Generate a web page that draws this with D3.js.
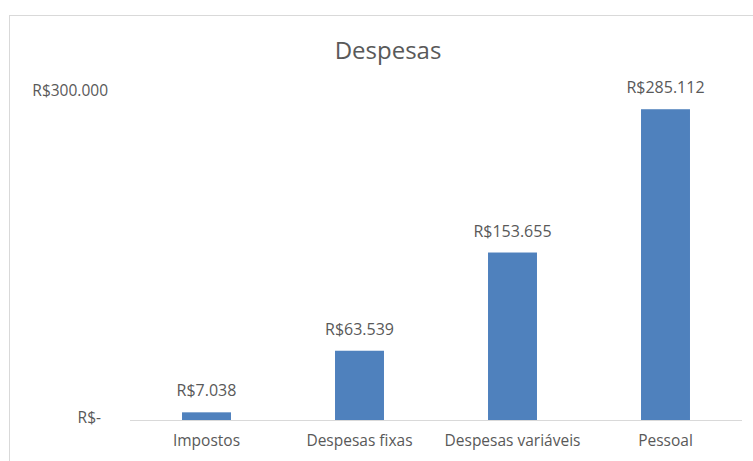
<!DOCTYPE html>
<html>
<head>
<meta charset="utf-8">
<script src="https://cdn.jsdelivr.net/npm/d3@7"></script>
<style>
  body { margin: 0; background: #fff; }
  text { font-family: "Open Sans", "Noto Sans", sans-serif; fill: #595959; }
</style>
</head>
<body>
<svg id="chart"></svg>
<script>
const categories = ["Impostos", "Despesas fixas", "Despesas variáveis", "Pessoal"];
const values = [7038, 63539, 153655, 285112];
const yTicks = [0, 300000];

const width = 753, height = 461;
const svg = d3.select("#chart").attr("width", width).attr("height", height);

// chart frame (right/bottom run off the picture)
svg.append("rect")
  .attr("x", 9.5).attr("y", 15.5)
  .attr("width", 760).attr("height", 460)
  .attr("fill", "#fff")
  .attr("stroke", "#d9d9d9");

const x = d3.scaleBand().domain(categories).range([130, 742]).paddingInner(0.68).paddingOuter(0.34);
const y = d3.scaleLinear().domain([0, 300000]).range([420, 93]);

const fmt = v => v === 0 ? "R$-" : "R$" + d3.format(",")(v).replace(/,/g, ".");

svg.append("text")
  .attr("x", 388).attr("y", 59)
  .attr("text-anchor", "middle")
  .style("font-size", "24px")
  .text("Despesas");

// y labels
svg.selectAll("text.ytick")
  .data(yTicks)
  .enter().append("text")
  .attr("class", "ytick")
  .attr("x", d => d === 0 ? 101 : 108)
  .attr("y", d => y(d) + 3)
  .attr("text-anchor", "end")
  .style("font-size", "15.5px")
  .text(fmt);

svg.selectAll("rect.bar")
  .data(values)
  .enter().append("rect")
  .attr("class", "bar")
  .attr("x", (d, i) => x(categories[i]))
  .attr("y", d => y(d))
  .attr("width", x.bandwidth())
  .attr("height", d => y(0) - y(d))
  .attr("fill", "#4f81bd");

svg.append("line")
  .attr("x1", 130).attr("x2", 742)
  .attr("y1", y(0) + 0.5).attr("y2", y(0) + 0.5)
  .attr("stroke", "#d9d9d9");

svg.selectAll("text.val")
  .data(values)
  .enter().append("text")
  .attr("class", "val")
  .attr("x", (d, i) => x(categories[i]) + x.bandwidth() / 2)
  .attr("y", d => y(d) - 16)
  .attr("text-anchor", "middle")
  .style("font-size", "16px")
  .text(fmt);

svg.selectAll("text.cat")
  .data(categories)
  .enter().append("text")
  .attr("class", "cat")
  .attr("x", d => x(d) + x.bandwidth() / 2)
  .attr("y", 446)
  .attr("text-anchor", "middle")
  .style("font-size", "15.5px")
  .text(d => d);
</script>
</body>
</html>
